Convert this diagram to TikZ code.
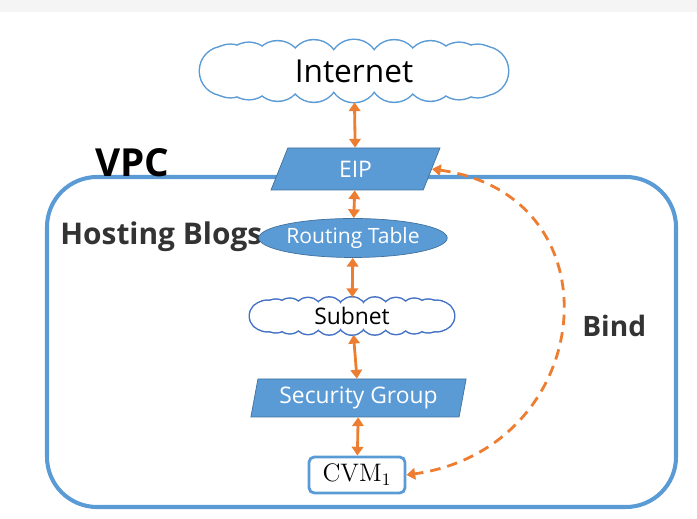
\documentclass[tikz,border=0pt]{standalone}
\usepackage[no-math]{fontspec}
\setmainfont{Open Sans}
\usepackage{tikz}
\usetikzlibrary{arrows.meta}
\usetikzlibrary{shapes.geometric}

\definecolor{boxblue}{HTML}{5B9BD5}
\definecolor{edgeblue}{HTML}{41719C}
\definecolor{netblue}{HTML}{4472C4}
\definecolor{linkorange}{HTML}{ED7D31}

\begin{document}
\begin{tikzpicture}[x=0.02cm, y=-0.02cm,
		P/.style={trapezium, trapezium left angle=76, trapezium right angle=104, trapezium stretches=true,
			fill=boxblue, draw=edgeblue, text=white, inner sep=0pt, font=\fontsize{13}{15}\selectfont},
		C/.style={ellipse, inner sep=0pt},
		B/.style={line width=1.6pt, draw=linkorange, {Triangle[length=5pt,width=6.5pt]}-{Triangle[length=5pt,width=6.5pt]}},
		T/.style={font=\bfseries\fontsize{#1}{#1}\selectfont, text=black!80, anchor=base west, inner sep=0pt}
		]
		\useasboundingbox (0,0) rectangle (697,519);
		\fill[black!4] (0,0) rectangle (697,12);
		
		% vpc box
		\draw[line width=2.3pt, draw=boxblue, rounded corners=1cm] (47,177) rectangle (676,507);
		\node[T=22, text=black] (vpc) at (95,177) {VPC};
		\node[T=17] (blogs) at (60,245) {Hosting Blogs};
		\node[T=16] (bind) at (582,337) {Bind};
		
		% clouds: puffs drawn thick, then filled white
		\foreach \a in {0,18,...,342}
			\draw[boxblue, line width=1.7pt] ({354+130*cos(\a)},{71+7*sin(\a)}) circle[radius=0.48cm];
		\foreach \a in {0,18,...,342}
			\fill[white] ({354+130*cos(\a)},{71+7*sin(\a)}) circle[radius=0.48cm];
		\foreach \a in {0,15,...,345}
			\draw[netblue, line width=1.7pt] ({352+88*cos(\a)},{316+4.5*sin(\a)}) circle[radius=0.28cm];
		\foreach \a in {0,15,...,345}
			\fill[white] ({352+88*cos(\a)},{316+4.5*sin(\a)}) circle[radius=0.28cm];
		
		\node[C, minimum width=6.16cm, minimum height=1.24cm, font=\fontsize{18}{20}\selectfont] (internet) at (354,71) {Internet};
		\node[P, minimum width=3.38cm, minimum height=0.84cm] (eip) at (355.5,169) {EIP};
		\node[ellipse, fill=boxblue, draw=edgeblue, text=white, inner sep=0pt, minimum width=3.4cm, minimum height=0.78cm,
			font=\fontsize{12}{14}\selectfont] (route) at (353,238) {Routing Table};
		\node[C, minimum width=4.06cm, minimum height=0.74cm, font=\fontsize{13}{15}\selectfont] (subnet) at (352,316) {Subnet};
		\node[P, minimum width=4.34cm, minimum height=0.76cm] (secgroup) at (358.5,398) {Security Group};
		\node[draw=boxblue, line width=1.6pt, rounded corners=3pt, fill=white, minimum width=1.92cm, minimum height=0.72cm,
			font=\fontsize{14}{16}\selectfont] (cvm) at (357,475) {$\mathrm{CVM}_1$};
		
		% links
		\draw[B] (internet) -- (eip);
		\draw[B] (eip) -- (route);
		\draw[B] (route) -- (subnet);
		\draw[B] (subnet) -- (secgroup);
		\draw[B] (secgroup) -- (cvm);
		\draw[B, dash pattern=on 6pt off 4pt] (eip.east) to[out=-8, in=8, looseness=1.6] (cvm.east);
		
	\end{tikzpicture}
\end{document}
